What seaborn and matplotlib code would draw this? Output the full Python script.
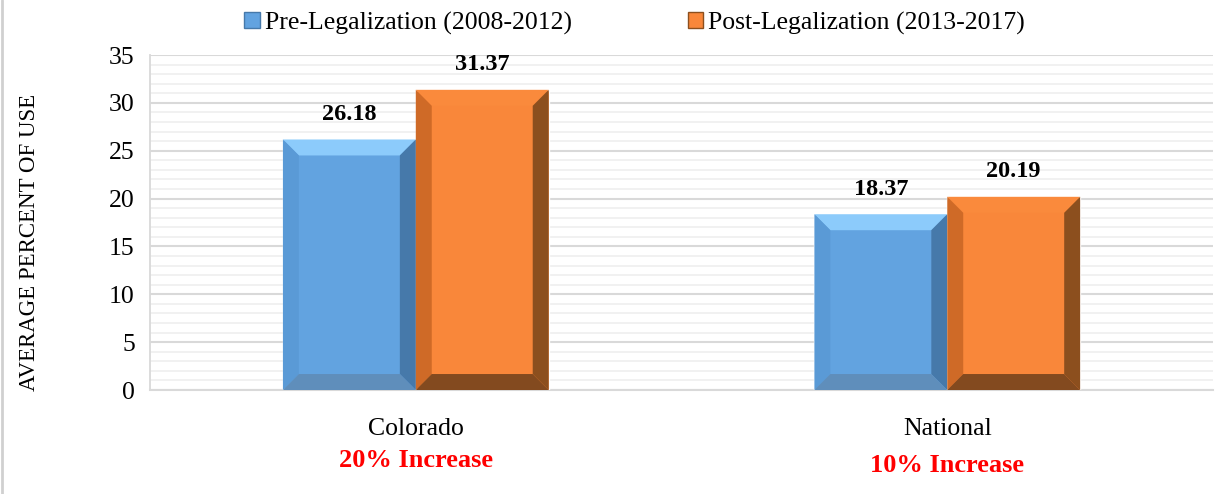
import pandas as pd
import seaborn as sns
import matplotlib.pyplot as plt
import matplotlib.transforms as mtrans
from matplotlib.patches import Polygon, Patch
from matplotlib.lines import Line2D
from matplotlib.ticker import MultipleLocator

regions = ["Colorado", "National"]
periods = ["Pre-Legalization (2008-2012)", "Post-Legalization (2013-2017)"]
pre_values = [26.18, 18.37]
post_values = [31.37, 20.19]
increase_labels = ["20% Increase", "10% Increase"]

df = pd.DataFrame({
    "Region": regions * 2,
    "Period": [periods[0]] * 2 + [periods[1]] * 2,
    "Value": pre_values + post_values,
})

sns.set_style("white")
plt.rcParams["font.family"] = ["Liberation Serif", "DejaVu Serif"]
plt.rcParams["text.color"] = "black"
plt.rcParams["xtick.color"] = "black"
plt.rcParams["ytick.color"] = "black"
plt.rcParams["axes.labelcolor"] = "black"

# face, top, left, right, bottom
shades = {
    periods[0]: ["#62A3E0", "#8CCBFB", "#5A9AD6", "#4679AA", "#5F8EBB"],
    periods[1]: ["#F9873A", "#FA8A3C", "#CF6A27", "#8C4F1E", "#834A1F"],
}

fig = plt.figure(figsize=(12.18, 4.94), dpi=100)
ax = fig.add_axes([0.1232, 0.2105, 0.8727, 0.678])

sns.barplot(data=df, x="Region", y="Value", hue="Period", hue_order=periods,
            palette=[shades[p][0] for p in periods], saturation=1, width=0.5,
            gap=0, legend=False, ax=ax, zorder=3)

ax.set_ylim(0, 35)
ax.set_xlim(-0.5, 1.5)
ax.yaxis.set_major_locator(MultipleLocator(5))
ax.yaxis.set_minor_locator(MultipleLocator(1))
ax.grid(axis="y", which="minor", color="#F0F0F0", lw=1.3, zorder=0)
ax.grid(axis="y", which="major", color="#D9D9D9", lw=1.5, zorder=0)
ax.set_axisbelow(True)
for s in ["top", "right"]:
    ax.spines[s].set_visible(False)
ax.spines["left"].set_color("#D9D9D9")
ax.spines["bottom"].set_color("#D9D9D9")
ax.spines["left"].set_linewidth(1.3)
ax.spines["bottom"].set_linewidth(1.5)
ax.tick_params(axis="y", which="both", length=0, labelsize=18.5, pad=11)
ax.tick_params(axis="x", which="both", length=0, labelsize=18.5, pad=20)
ax.set_xlabel("")
ax.set_ylabel("AVERAGE PERCENT OF USE", fontsize=16.5)
ax.yaxis.set_label_coords(-0.104, 0.44)

# bevel edges
dx, dy = 0.03, 1.67
bars = [p for p in ax.patches if p.get_height() > 0]
for i, bar in enumerate(bars):
    period = periods[i // len(regions)]
    face, top, left, right, bottom = shades[period]
    x0, w, h = bar.get_x(), bar.get_width(), bar.get_height()
    x1 = x0 + w
    polys = [
        ([(x0, h), (x1, h), (x1 - dx, h - dy), (x0 + dx, h - dy)], top),
        ([(x0, 0), (x0, h), (x0 + dx, h - dy), (x0 + dx, dy)], left),
        ([(x1, 0), (x1, h), (x1 - dx, h - dy), (x1 - dx, dy)], right),
        ([(x0, 0), (x1, 0), (x1 - dx, dy), (x0 + dx, dy)], bottom),
    ]
    for pts, c in polys:
        ax.add_patch(Polygon(pts, closed=True, facecolor=c, edgecolor="none", zorder=4))
    ax.text(x0 + w / 2, h + 1.5, f"{h:.2f}", ha="center", va="bottom",
            fontsize=17.5, fontweight="bold", zorder=5)

trans = mtrans.blended_transform_factory(ax.transData, ax.transAxes)
for i, lab in enumerate(increase_labels):
    ax.text(i, -0.21 - 0.015 * i, lab, transform=trans, ha="center", va="center",
            color="red", fontsize=19, fontweight="bold")

handles = [Patch(facecolor=shades[p][0], edgecolor=shades[p][3]) for p in periods]
fig.legend(handles, periods, loc="center", bbox_to_anchor=(0.521, 0.953), ncol=2,
           frameon=False, fontsize=18.5, handlelength=0.6, handleheight=0.6,
           handletextpad=0.2, columnspacing=4.5)

fig.add_artist(Line2D([0.002, 0.002], [0, 1], transform=fig.transFigure,
                      color="#D0D0D0", lw=2))

fig.savefig("out.png", dpi=100)
